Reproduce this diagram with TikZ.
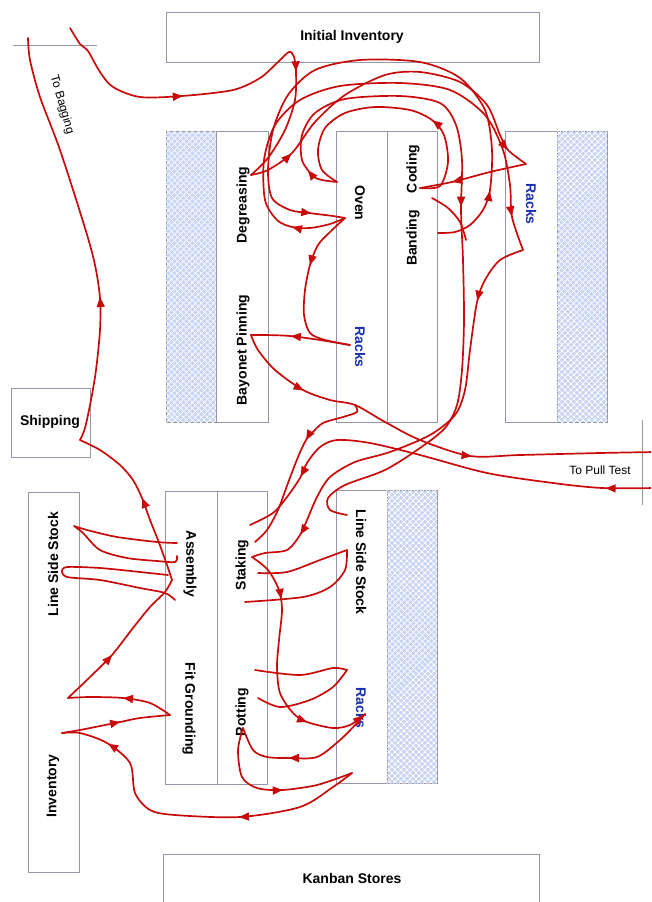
\documentclass[tikz,border=0pt]{standalone}
\usepackage{fontspec}
\setmainfont{Liberation Sans}
\usetikzlibrary{decorations.markings,arrows.meta,patterns.meta}

\definecolor{flow}{RGB}{200,10,10}
\definecolor{edge}{RGB}{150,150,168}
\definecolor{hatchbg}{RGB}{200,213,244}
\definecolor{rackblue}{RGB}{25,45,175}

\tikzset{
  flowline/.style={draw=flow, line width=1.7pt, line join=round, line cap=round},
  arr/.style={postaction={decorate,decoration={markings,
      mark=at position #1 with {\arrow{Triangle[length=10pt,width=8pt]}}}}},
  area/.style={draw=edge, line width=0.6pt, fill=white},
  hatch/.style={draw=edge, line width=0.6pt, fill=hatchbg,
      postaction={pattern={Lines[angle=45,distance=4pt,line width=0.9pt]}, pattern color=white},
      postaction={pattern={Lines[angle=-45,distance=4pt,line width=0.9pt]}, pattern color=white}},
  lab/.style={font=\fontsize{14}{16}\selectfont\bfseries, inner sep=0pt},
  rack/.style={lab, text=rackblue},
  note/.style={font=\fontsize{12}{14}\selectfont, inner sep=0pt},
  rule/.style={draw=edge, line width=0.6pt},
}

\begin{document}
\begin{tikzpicture}[x=1pt,y=-1pt]
\useasboundingbox (0,0) rectangle (651,902);
\clip (0,0) rectangle (651,902);

% ---------- floor areas ----------
\draw[area] (166,12) rectangle (539,62);
\draw[hatch] (166,131) rectangle (216,422);
\draw[area] (216,131) rectangle (268,422);
\draw[area] (336,131) rectangle (387,422);
\draw[area] (387,131) rectangle (437,422);
\draw[area] (505,131) rectangle (557,422);
\draw[hatch] (557,131) rectangle (607,422);
\draw[area] (11,388) rectangle (90,457);
\draw[area] (28,492) rectangle (79,872);
\draw[area] (165,491) rectangle (217,784);
\draw[area] (217,491) rectangle (267,784);
\draw[area] (336,490) rectangle (387,783);
\draw[hatch] (387,490) rectangle (437,783);
\draw[area] (163,854) rectangle (539,920);
\draw[rule] (13,45) -- (97,45);
\draw[rule] (642,420) -- (642,505);

% ---------- labels ----------
\node[lab] (tInit) at (352,37) {Initial Inventory};
\node[lab, rotate=90] (tDeg) at (243,205) {Degreasing};
\node[lab, rotate=90] (tBay) at (243,350) {Bayonet Pinning};
\node[lab, rotate=-90] (tOven) at (360,203) {Oven};
\node[rack, rotate=-90] (tRk1) at (360,347) {Racks};
\node[lab, rotate=90] (tBand) at (413,238) {Banding};
\node[lab, rotate=90] (tCod) at (413,169) {Coding};
\node[rack, rotate=-90] (tRk2) at (531,204) {Racks};
\node[lab] (tShip) at (50,422) {Shipping};
\node[lab, rotate=90] (tLss1) at (53,564) {Line Side Stock};
\node[lab, rotate=90] (tInv) at (53,786) {Inventory};
\node[lab, rotate=-90] (tAsm) at (190,564) {Assembly};
\node[lab, rotate=-90] (tFit) at (189,709) {Fit Grounding};
\node[lab, rotate=90] (tStk) at (242,565) {Staking};
\node[lab, rotate=90] (tPot) at (242,712) {Potting};
\node[lab, rotate=-90] (tLss2) at (361,562) {Line Side Stock};
\node[rack, rotate=-90] (tRk3) at (361,708) {Racks};
\node[lab] (tKan) at (352,878) {Kanban Stores};
\node[note] (tPull) at (600,470) {To Pull Test};
\node[note, rotate=-74] (tBag) at (62,105) {To Bagging};

% ---------- stations ----------
\coordinate (inTop) at (70,28);
\coordinate (deg) at (251,175);
\coordinate (ovU) at (337,182);
\coordinate (ovL) at (345,218);
\coordinate (rkM) at (350,345);
\coordinate (bay) at (251,335);
\coordinate (jn) at (355,405);
\coordinate (cod) at (420,188);
\coordinate (ban) at (438,233);
\coordinate (rkR) at (526,164);
\coordinate (kink) at (523,250);
\coordinate (pullOut) at (655,452);
\coordinate (pullIn) at (655,488);
\coordinate (stkA) at (250,525);
\coordinate (stkB) at (255,542);
\coordinate (stkC) at (252,557);
\coordinate (lssR) at (347,515);
\coordinate (ship) at (80,440);
\coordinate (bag) at (28,38);
\coordinate (asm) at (172,580);
\coordinate (invA) at (68,698);
\coordinate (invB) at (62,733);
\coordinate (fg) at (170,715);
\coordinate (rkB) at (352,773);
\coordinate (rkL) at (365,714);
\coordinate (pot) at (243,728);

% ---------- material flow ----------
% incoming material to degreasing
\draw[flowline, arr=0.36, arr=0.71] plot[smooth] coordinates
  {(inTop) (80,44) (88,51) (100,72) (113,87) (140,97) (182,96) (233,90) (260,78)
   (277,63) (289,52) (294,57) (296,72) (295,100) (285,130) (268,158) (deg)};
% degreasing to racks
\draw[flowline, arr=0.13, arr=0.935] plot[smooth] coordinates
  {(deg) (268,170) (292,153) (315,122) (345,95) (385,75) (420,72) (460,82)
   (487,105) (500,135) (508,150) (rkR)};
% racks to coding
\draw[flowline, arr=0.70] plot[smooth] coordinates {(rkR) (490,172) (452,182) (cod)};
% coding to oven
\draw[flowline, arr=0.34] plot[smooth] coordinates
  {(cod) (440,186) (448,162) (444,135) (432,120) (410,110) (375,107) (345,113)
   (325,128) (318,150) (322,170) (ovU)};
% oven to line side stock
\draw[flowline, arr=0.045, arr=0.46] plot[smooth] coordinates
  {(ovU) (322,180) (313,176) (302,160) (302,135) (315,113) (345,99) (400,96)
   (440,103) (456,125) (462,160) (461,210) (463,260) (464,320) (462,370) (457,405)
   (445,428) (420,448) (385,470) (345,485) (328,498) (330,510) (lssR)};
\draw[flowline] plot[smooth] coordinates {(432,198) (448,208) (460,222) (466,240)};
% oven to racks and on to staking
\draw[flowline, arr=0.10, arr=0.935] plot[smooth] coordinates
  {(ovL) (330,224) (310,228) (292,227) (277,220) (265,200) (264,160) (275,125)
   (300,100) (340,86) (400,83) (450,90) (485,115) (503,150) (510,185) (512,217) (kink)};
\draw[flowline, arr=0.16, arr=0.875] plot[smooth] coordinates
  {(kink) (500,260) (485,280) (477,302) (470,350) (465,390) (455,415) (430,435)
   (390,452) (355,462) (330,477) (317,497) (307,520) (300,535) (287,550) (265,553) (stkC)};
% banding to oven
\draw[flowline, arr=0.13, arr=0.94] plot[smooth] coordinates
  {(ban) (455,232) (470,225) (483,210) (490,190) (492,150) (485,110) (460,78)
   (420,62) (360,60) (315,70) (288,95) (273,130) (268,170) (272,198) (290,210)
   (309,213) (333,216) (ovL)};
% oven to racks, racks to bayonet pinning
\draw[flowline, arr=0.35] plot[smooth] coordinates
  {(ovL) (330,232) (318,245) (310,265) (305,290) (304,315) (310,333) (325,340) (rkM)};
\draw[flowline, arr=0.6] plot[smooth] coordinates {(rkM) (320,340) (290,336) (265,335) (bay)};
% bayonet pinning out to pull test
\draw[flowline, arr=0.176, arr=0.586] plot[smooth] coordinates
  {(bay) (258,350) (275,370) (303,390) (330,400) (jn) (385,422) (420,440)
   (470,456) (520,455) (600,453) (pullOut)};
\draw[flowline, arr=0.37] plot[smooth] coordinates
  {(jn) (357,412) (343,417) (323,423) (312,433) (306,440) (298,457) (288,483)
   (278,510) (267,530) (stkB)};
% back from pull test
\draw[flowline, arr=0.11, arr=0.84] plot[smooth] coordinates
  {(pullIn) (602,488) (553,483) (487,473) (420,455) (370,443) (337,440) (320,447)
   (307,463) (300,478) (287,497) (273,513) (stkA)};
% assembly to shipping to bagging
\draw[flowline, arr=0.50] plot[smooth] coordinates
  {(asm) (167,565) (158,540) (150,520) (142,498) (133,480) (120,465) (100,450) (ship)};
\draw[flowline, arr=0.35] plot[smooth] coordinates
  {(ship) (85,428) (91,400) (96,370) (100,330) (100,298) (95,265) (85,228) (60,150)
   (40,97) (30,60) (bag)};
% assembly and line side stock
\draw[flowline] plot[smooth] coordinates {(177,543) (157,542) (117,537) (87,530) (74,526)}
  -- plot[smooth] coordinates {(74,526) (83,533) (100,550) (127,558) (157,561) (175,562) (177,556)};
\draw[flowline] plot[smooth] coordinates {(168,575) (140,572) (100,568) (67,567) (62,571)}
  -- plot[smooth] coordinates {(62,571) (67,577) (100,580) (140,588) (165,593) (175,600)};
% inventory and fit grounding
\draw[flowline, arr=0.39] plot[smooth] coordinates
  {(invA) (90,677) (112,655) (133,628) (150,607) (165,592) (asm)};
\draw[flowline, arr=0.48] plot[smooth] coordinates {(fg) (150,703) (123,698) (90,697) (invA)};
\draw[flowline, arr=0.54] plot[smooth] coordinates {(invB) (80,730) (120,722) (140,718) (fg)};
\draw[flowline, arr=0.36, arr=0.86] plot[smooth] coordinates
  {(rkB) (333,787) (300,807) (240,817) (175,815) (150,810) (135,793) (130,763)
   (107,743) (80,733) (invB)};
% potting and racks
\draw[flowline, arr=0.57] plot[smooth] coordinates
  {(pot) (238,750) (242,777) (257,788) (282,790) (317,785) (rkB)};
\draw[flowline, arr=0.60] plot[smooth] coordinates
  {(rkL) (357,723) (340,740) (317,757) (290,758) (267,757) (253,750) (pot)};
% staking down to racks
\draw[flowline, arr=0.21, arr=0.75, arr=0.99] plot[smooth] coordinates
  {(stkC) (268,570) (279,590) (282,610) (279,640) (277,667) (280,693) (293,713)
   (307,722) (333,728) (350,725) (rkL)};
% staking and potting loops to line side stock
\draw[flowline] plot[smooth] coordinates {(258,573) (287,572) (320,560) (347,550)}
  -- plot[smooth] coordinates {(347,550) (345,570) (330,587) (303,597) (245,602)};
\draw[flowline] plot[smooth] coordinates {(255,670) (300,675) (333,668) (347,670)}
  -- plot[smooth] coordinates {(347,670) (333,687) (310,700) (280,707) (258,698)};
\end{tikzpicture}
\end{document}
